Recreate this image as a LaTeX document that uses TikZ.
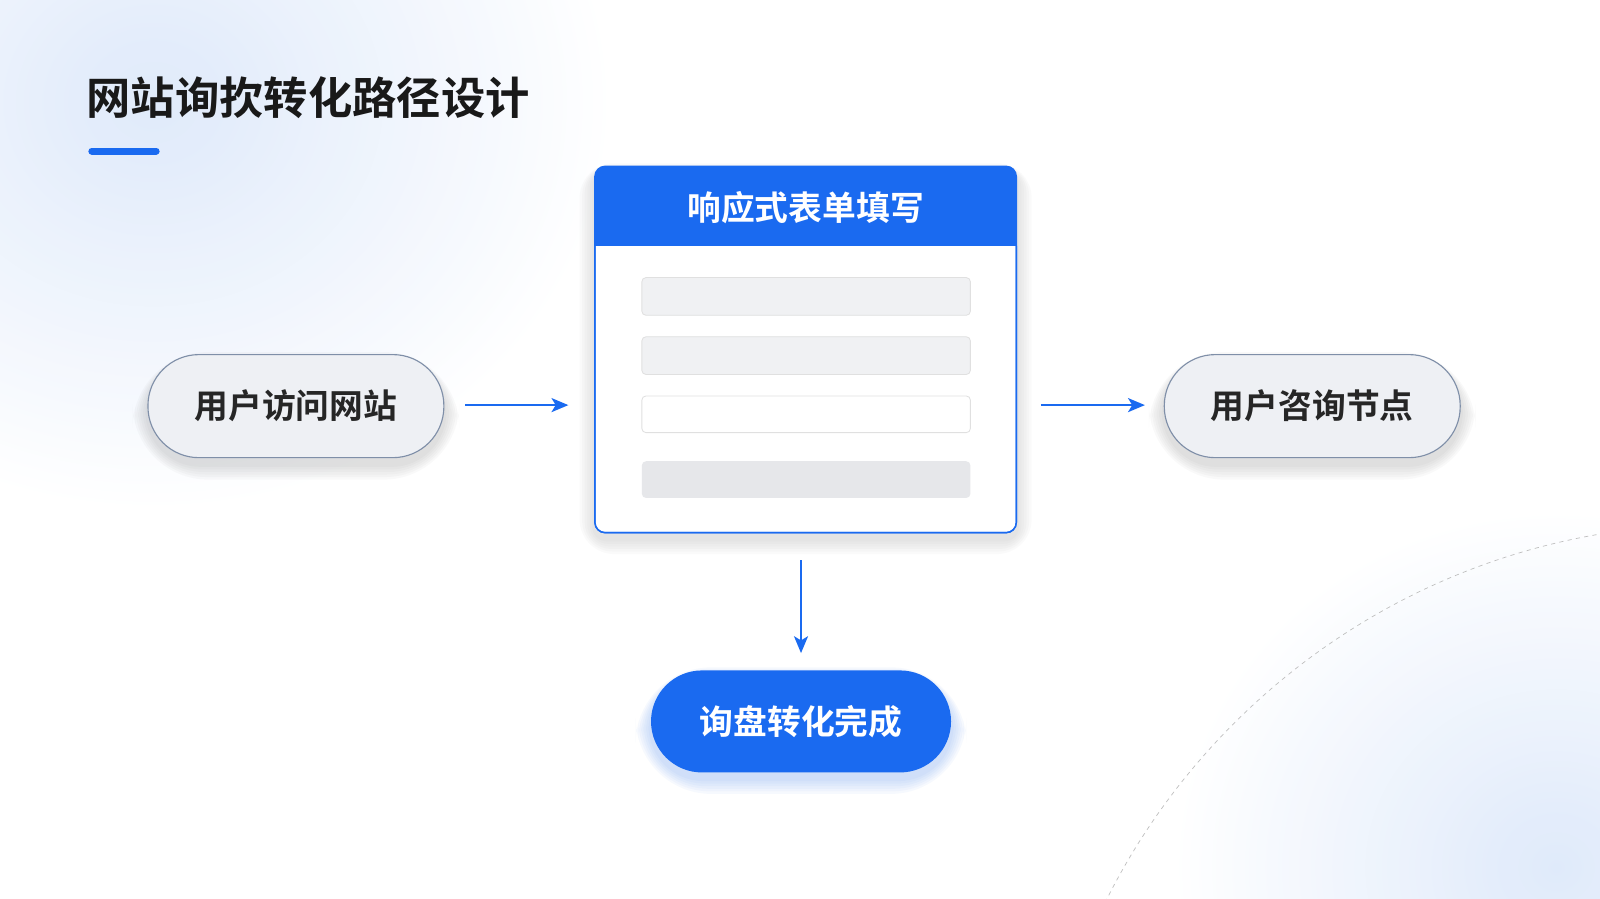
\documentclass[tikz,border=0pt]{standalone}
\usepackage{fontspec}
\setmainfont{Noto Sans CJK SC}[BoldFont={Noto Sans CJK SC Bold}]
\usetikzlibrary{arrows.meta}
\definecolor{mblue}{HTML}{1A6AF0}
\definecolor{pillfill}{HTML}{EEF0F4}
\definecolor{pilledge}{HTML}{7F8FA8}
\definecolor{field}{HTML}{F0F1F3}
\definecolor{fieldd}{HTML}{E6E7EA}
\definecolor{bgblue}{HTML}{DCE8FA}
\newcommand{\softshadow}[6]{%
  \foreach \k in {1,...,6}{
    \fill[#6,opacity=0.035,rounded corners={(#5+\k*4)*0.0255cm}] (#1-\k*2.5,#2-\k*1.5+6) rectangle (#3+\k*2.5,#4+\k*2.5+6);}}
\begin{document}
\begin{tikzpicture}[x=0.0255cm,y=-0.0255cm,
 pill/.style={rounded corners=50*0.0255cm,draw=pilledge,line width=0.8pt,fill=pillfill,font=\bfseries\fontsize{24}{27}\selectfont,text=black!85},
 arr/.style={-{Stealth[length=12pt,width=10pt,inset=3pt]},mblue,line width=1.4pt},
 fld/.style={rounded corners=3pt,draw=black!12,fill=field,line width=0.6pt}]
\begin{scope}
\clip (0,0) rectangle (1568,881);
\fill[white] (0,0) rectangle (1568,881);
\shade[inner color=bgblue,outer color=white,opacity=0.9] (-300,-300) rectangle (600,500);
\shade[inner color=bgblue,outer color=white,opacity=0.9] (1150,500) rectangle (1900,1200);
\draw[black!25,dashed,line width=0.5pt] (1680,1180) circle[radius=666];
\node[anchor=west,font=\bfseries\fontsize{31.5}{35}\selectfont,text=black!90] (title) at (80,96) {网站询扻转化路径设计};
\draw[mblue,line width=0.175cm,line cap=round] (90,148) -- (153,148);
\softshadow{145}{348}{435}{449}{50}{black!60}
\softshadow{1141}{348}{1431}{449}{50}{black!60}
\softshadow{638}{657}{932}{757}{50}{mblue}
\softshadow{583}{163}{996}{522}{10}{black!50}
\node[pill,minimum width=290*0.0255cm,minimum height=101*0.0255cm] (a) at (290,398) {用户访问网站};
\node[pill,minimum width=290*0.0255cm,minimum height=101*0.0255cm] (c) at (1286,398) {用户咨询节点};
\node[pill,draw=none,fill=mblue,text=white,minimum width=294*0.0255cm,minimum height=100*0.0255cm] (d) at (785,707) {询盘转化完成};
\node[draw=mblue,line width=1pt,fill=white,rounded corners=10*0.0255cm,minimum width=413*0.0255cm,minimum height=359*0.0255cm] (b) at (789.5,342.5) {};
\fill[mblue,rounded corners=10*0.0255cm] (583,163) rectangle (996,241);
\fill[mblue] (583,200) rectangle (996,241);
\draw[mblue,line width=1pt,rounded corners=10*0.0255cm] (583,241) -- (583,522) -- (996,522) -- (996,241);
\node[font=\bfseries\fontsize{24}{27}\selectfont,text=white] (bh) at (789.5,203) {响应式表单填写};
\draw[fld] (629,272) rectangle (951,309);
\draw[fld] (629,330) rectangle (951,367);
\draw[fld,fill=white] (629,388) rectangle (951,424);
\fill[fieldd,rounded corners=3pt] (629,452) rectangle (951,488);
\coordinate (a1) at (456,397); \coordinate (a2) at (557,397);
\coordinate (c1) at (1020,397); \coordinate (c2) at (1122,397);
\coordinate (d1) at (785,549); \coordinate (d2) at (785,640);
\draw[arr] (a1) -- (a2);
\draw[arr] (c1) -- (c2);
\draw[arr] (d1) -- (d2);
\end{scope}
\pgfresetboundingbox
\useasboundingbox (0,0) rectangle (1568,881);
\end{tikzpicture}
\end{document}
